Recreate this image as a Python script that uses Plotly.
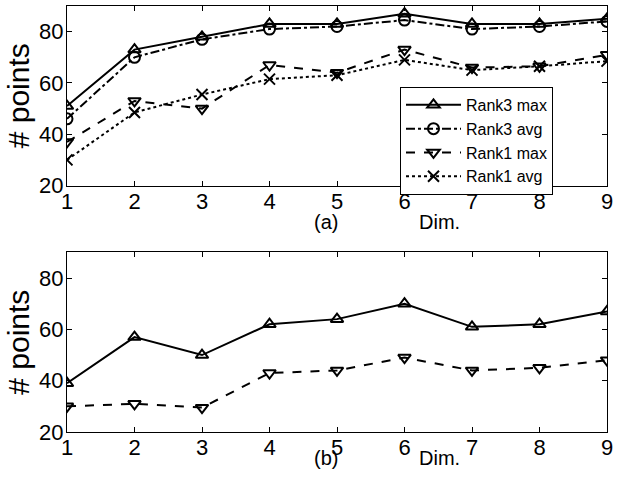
import plotly.graph_objects as go
from plotly.subplots import make_subplots

dims = [1, 2, 3, 4, 5, 6, 7, 8, 9]

# Panel (a)
a_rank3_max = [51, 73, 78, 83, 83, 87, 83, 83, 85]
a_rank3_avg = [46, 70, 77, 81, 82, 84.5, 81, 82, 84]
a_rank1_max = [37, 53, 50, 67, 64, 73, 66, 66.5, 71]
a_rank1_avg = [30, 48.5, 55.5, 61.5, 63, 69, 65, 66.5, 68.5]

# Panel (b)
b_rank3_max = [39, 57, 50, 62, 64, 70, 61, 62, 67]
b_rank1_max = [30, 31, 29.5, 43, 44, 49, 44, 45, 48]

yticks = [20, 40, 60, 80]
FONT = "Liberation Sans, Arial, Helvetica, sans-serif"

fig = make_subplots(rows=2, cols=1, vertical_spacing=0.157)

def add(x, y, name, dash, symbol, row, showlegend, lw=2):
    fig.add_trace(go.Scatter(
        x=x, y=y, name=name, mode="lines+markers",
        line=dict(color="black", width=lw, dash=dash),
        marker=dict(symbol=symbol, size=11, color="black",
                    line=dict(color="black", width=2)),
        showlegend=showlegend), row=row, col=1)

add(dims, a_rank3_max, "Rank3 max", "solid", "triangle-up-open", 1, True)
add(dims, a_rank3_avg, "Rank3 avg", "dashdot", "circle-open", 1, True)
add(dims, a_rank1_max, "Rank1 max", "dash", "triangle-down-open", 1, True)
add(dims, a_rank1_avg, "Rank1 avg", "dot", "x-thin-open", 1, True)
add(dims, b_rank3_max, "Rank3 max", "solid", "triangle-up-open", 2, False)
add(dims, b_rank1_max, "Rank1 max", "dash", "triangle-down-open", 2, False)

axis_common = dict(showline=True, linecolor="black", linewidth=1, mirror="ticks",
                   ticks="inside", ticklen=5, tickcolor="black", showgrid=False,
                   zeroline=False, automargin=False,
                   tickfont=dict(size=22, color="black", family=FONT))

for r in (1, 2):
    fig.update_xaxes(range=[1, 9], tickvals=dims, ticktext=[str(d) for d in dims],
                     row=r, col=1, ticklabelstandoff=-4, **axis_common)
    fig.update_yaxes(range=[20, 90], tickvals=yticks, ticktext=[str(t) for t in yticks],
                     row=r, col=1, ticklabelstandoff=-2,
                     title=dict(text="# points", standoff=0,
                                font=dict(size=30, color="black", family=FONT)),
                     **axis_common)

for txt, x, y in [("(a)", 0.479, 0.493), ("Dim.", 0.69, 0.493),
                  ("(b)", 0.479, -0.061), ("Dim.", 0.69, -0.061)]:
    fig.add_annotation(text=txt, x=x, y=y, xref="paper", yref="paper",
                       showarrow=False, xanchor="center", yanchor="middle",
                       font=dict(size=20, color="black", family=FONT))

fig.update_layout(
    width=629, height=478,
    margin=dict(l=67, r=22, t=6, b=46),
    paper_bgcolor="white", plot_bgcolor="white",
    font=dict(family=FONT, color="black"),
    legend=dict(x=0.9, y=0.81, xanchor="right", yanchor="top",
                bordercolor="black", borderwidth=1, bgcolor="white",
                font=dict(size=16, color="black", family=FONT),
                tracegroupgap=0, itemwidth=55),
)

fig.write_html("out.html", config={"displayModeBar": False},
               post_script="document.body.style.margin='0';document.body.style.padding='0';")
